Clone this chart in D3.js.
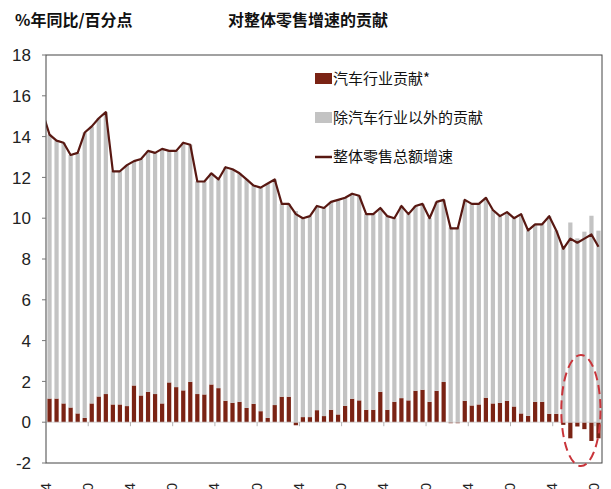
<!DOCTYPE html>
<html>
<head>
<meta charset="utf-8">
<script src="https://cdn.jsdelivr.net/npm/d3@7"></script>
<style>
  body { margin: 0; background: #fff; }
  svg { display: block; }
  .title { font-family: "Noto Sans CJK SC", sans-serif; font-weight: 700; font-size: 16px; fill: #111; }
  .legend-text { font-family: "Noto Sans CJK SC", sans-serif; font-size: 15px; fill: #111; }
  .ytick { font-family: "Liberation Sans Narrow", "Liberation Sans", sans-serif; font-size: 17px; fill: #222; }
  .xtick { font-family: "Liberation Sans Narrow", "Liberation Sans", sans-serif; font-size: 15px; fill: #222; }
</style>
</head>
<body>
<div id="chart"></div>
<script>
// months shown on the category axis (2012-04 .. 2018-10)
var months = [];
for (var yr = 2012; yr <= 2018; yr++) {
  for (var mo = 1; mo <= 12; mo++) {
    if ((yr === 2012 && mo < 4) || (yr === 2018 && mo > 10)) continue;
    months.push(yr + "-" + (mo < 10 ? "0" + mo : mo));
  }
}

// total retail sales growth, % yoy
var totalGrowth = [
  14.1, 13.8, 13.7, 13.1, 13.2, 14.2, 14.5, 14.9, 15.2,
  12.3, 12.3, 12.6, 12.8, 12.9, 13.3, 13.2, 13.4, 13.3, 13.3, 13.7, 13.6,
  11.8, 11.8, 12.2, 11.9, 12.5, 12.4, 12.2, 11.9, 11.6, 11.5, 11.7, 11.9,
  10.7, 10.7, 10.2, 10.0, 10.1, 10.6, 10.5, 10.8, 10.9, 11.0, 11.2, 11.1,
  10.2, 10.2, 10.5, 10.1, 10.0, 10.6, 10.2, 10.6, 10.7, 10.0, 10.8, 10.9,
  9.5, 9.5, 10.9, 10.7, 10.7, 11.0, 10.4, 10.1, 10.3, 10.0, 10.2, 9.4,
  9.7, 9.7, 10.1, 9.4, 8.5, 9.0, 8.8, 9.0, 9.2, 8.6
];

// month before the first category: the line enters from the left edge
var priorMonth = "2012-03";
var priorGrowth = 15.2;

// contribution of the auto industry, percentage points
var autoContrib = [
  1.16, 1.16, 0.92, 0.72, 0.43, 0.21, 0.92, 1.26, 1.38,
  0.87, 0.87, 0.79, 1.80, 1.31, 1.49, 1.38, 0.92, 1.95, 1.72, 1.56, 1.98,
  1.38, 1.36, 1.85, 1.67, 1.05, 0.95, 1.00, 0.70, 0.90, 0.54, 0.21, 0.84,
  1.25, 1.25, -0.15, 0.25, 0.25, 0.59, 0.30, 0.61, 0.38, 0.80, 1.15, 1.07,
  0.61, 0.61, 1.49, 0.61, 1.00, 1.18, 1.07, 1.54, 1.59, 1.00, 1.54, 1.97,
  -0.05, -0.05, 1.05, 0.82, 0.87, 1.20, 0.92, 0.95, 1.05, 0.77, 0.43, 0.31,
  1.00, 1.00, 0.41, 0.41, -0.13, -0.79, -0.21, -0.34, -0.92, -0.79
];

var yTicks = [-2, 0, 2, 4, 6, 8, 10, 12, 14, 16, 18];
var legendLabels = ["汽车行业贡献*", "除汽车行业以外的贡献", "整体零售总额增速"];

var svgWidth = 611;
var svgHeight = 489;

var margin = { top: 55, right: 9, bottom: 26, left: 46 };
var width = svgWidth - margin.left - margin.right;
var height = svgHeight - margin.top - margin.bottom;

var colorAuto = "#7a2314";
var colorOther = "#c3c3c3";
var colorLine = "#581812";

var svg = d3.select("#chart")
  .append("svg")
  .attr("width", svgWidth)
  .attr("height", svgHeight);

// titles
svg.append("text")
  .attr("class", "title")
  .attr("x", 15)
  .attr("y", 26)
  .text("%年同比/百分点");

svg.append("text")
  .attr("class", "title")
  .attr("x", 308)
  .attr("y", 26)
  .attr("text-anchor", "middle")
  .text("对整体零售增速的贡献");

var chartGroup = svg.append("g")
  .attr("transform", `translate(${margin.left}, ${margin.top})`);

// scales
var xBand = d3.scaleBand()
  .domain(months)
  .range([0, width])
  .paddingInner(0.4)
  .paddingOuter(0.2);

var step = xBand.step();
function xc(i) { return step * (i + 0.5); }

var yScale = d3.scaleLinear()
  .domain([-2, 18])
  .range([height, 0]);

// stacked data: auto contribution + everything else
var tableData = months.map(function(m, i) {
  return { month: m, auto: autoContrib[i], other: totalGrowth[i] - autoContrib[i] };
});

var stacked = d3.stack()
  .keys(["auto", "other"])
  .offset(d3.stackOffsetDiverging)(tableData);

var barColors = { auto: colorAuto, other: colorOther };

chartGroup.selectAll("g.series")
  .data(stacked)
  .enter()
  .append("g")
  .attr("class", "series")
  .attr("fill", d => barColors[d.key])
  .selectAll("rect")
  .data(d => d)
  .enter()
  .append("rect")
  .attr("x", d => xBand(d.data.month))
  .attr("width", xBand.bandwidth())
  .attr("y", d => yScale(Math.max(d[0], d[1])))
  .attr("height", d => Math.abs(yScale(d[0]) - yScale(d[1])));

// zero line and category ticks
chartGroup.append("line")
  .attr("x1", 0)
  .attr("x2", width)
  .attr("y1", yScale(0))
  .attr("y2", yScale(0))
  .attr("stroke", "#cfcfcf")
  .attr("stroke-width", 0.8);

var tickIdx = d3.range(6, months.length + 1, 6);
chartGroup.selectAll("line.xtickmark")
  .data(tickIdx)
  .enter()
  .append("line")
  .attr("class", "xtickmark")
  .attr("x1", d => step * d)
  .attr("x2", d => step * d)
  .attr("y1", yScale(0))
  .attr("y2", yScale(0) + 4)
  .attr("stroke", "#a0a0a0")
  .attr("stroke-width", 0.8);

// total growth line, clipped to the plot
chartGroup.append("clipPath")
  .attr("id", "plotClip")
  .append("rect")
  .attr("width", width)
  .attr("height", height);

var lineData = [{ i: -1, v: priorGrowth, m: priorMonth }].concat(
  totalGrowth.map(function(v, i) { return { i: i, v: v, m: months[i] }; })
);

var line = d3.line()
  .x(d => xc(d.i))
  .y(d => yScale(d.v));

chartGroup.append("path")
  .datum(lineData)
  .attr("clip-path", "url(#plotClip)")
  .attr("fill", "none")
  .attr("stroke", colorLine)
  .attr("stroke-width", 2.2)
  .attr("stroke-linejoin", "round")
  .attr("d", line);

// plot border
chartGroup.append("rect")
  .attr("width", width)
  .attr("height", height)
  .attr("fill", "none")
  .attr("stroke", "#454545")
  .attr("stroke-width", 1);

// y axis ticks and labels
chartGroup.selectAll("line.ytickmark")
  .data(yTicks)
  .enter()
  .append("line")
  .attr("x1", -4)
  .attr("x2", 0)
  .attr("y1", d => yScale(d))
  .attr("y2", d => yScale(d))
  .attr("stroke", "#777");

chartGroup.selectAll("text.ytick")
  .data(yTicks)
  .enter()
  .append("text")
  .attr("class", "ytick")
  .attr("x", -15)
  .attr("y", d => yScale(d))
  .attr("dy", "0.36em")
  .attr("text-anchor", "end")
  .text(d => d);

// x labels, rotated, mostly below the picture edge
var labelIdx = d3.range(0, months.length, 6);
chartGroup.selectAll("text.xtick")
  .data(labelIdx)
  .enter()
  .append("text")
  .attr("class", "xtick")
  .attr("transform", d => `translate(${xc(d) + 1}, ${height + 20}) rotate(-90)`)
  .attr("text-anchor", "end")
  .text(d => months[d]);

// dashed ellipse around the negative auto contributions
var e0 = 73, e1 = 78;
chartGroup.append("ellipse")
  .attr("cx", (xc(e0) + xc(e1)) / 2)
  .attr("cy", (yScale(3.3) + yScale(-2.15)) / 2)
  .attr("rx", (xc(e1) - xc(e0)) / 2 + 2)
  .attr("ry", (yScale(-2.15) - yScale(3.3)) / 2)
  .attr("fill", "none")
  .attr("stroke", "#c9343a")
  .attr("stroke-width", 2)
  .attr("stroke-dasharray", "9,5");

// legend
var legend = svg.append("g")
  .attr("transform", "translate(315, 0)");
var rowY = [79, 118, 157];

legend.append("rect")
  .attr("x", 0).attr("y", rowY[0] - 6)
  .attr("width", 17).attr("height", 11)
  .attr("fill", colorAuto);

legend.append("rect")
  .attr("x", 0).attr("y", rowY[1] - 6)
  .attr("width", 17).attr("height", 11)
  .attr("fill", colorOther);

legend.append("line")
  .attr("x1", 0).attr("x2", 17)
  .attr("y1", rowY[2]).attr("y2", rowY[2])
  .attr("stroke", colorLine)
  .attr("stroke-width", 2.5);

legend.selectAll("text")
  .data(legendLabels)
  .enter()
  .append("text")
  .attr("class", "legend-text")
  .attr("x", 18)
  .attr("y", (d, i) => rowY[i])
  .attr("dy", "0.36em")
  .text(d => d);
</script>
</body>
</html>
